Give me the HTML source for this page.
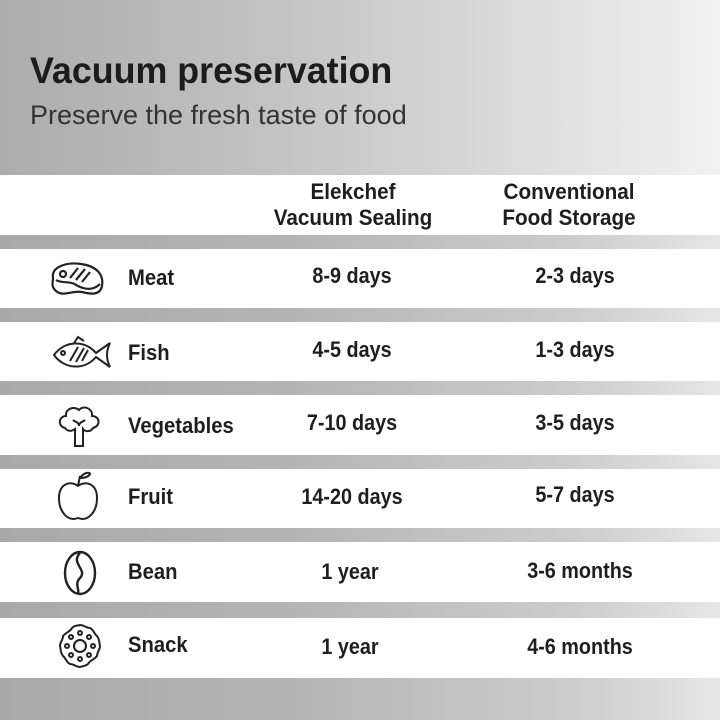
<!DOCTYPE html>
<html><head><meta charset="utf-8"><style>
html,body{margin:0;padding:0;}
body{width:720px;height:720px;position:relative;overflow:hidden;background:#fff;font-family:"Liberation Sans","Noto Sans CJK SC",sans-serif;color:#1e1e1e;}
.hdr{position:absolute;left:0;top:0;width:720px;height:175px;background:linear-gradient(90deg,#acacac 0%,#c4c4c4 40%,#e2e2e2 80%,#f2f2f2 100%);}
.bar{position:absolute;left:0;width:720px;height:14px;background:linear-gradient(90deg,#a9a9a9 0%,#b4b4b4 40%,#cdcdcd 80%,#e6e6e6 100%);}
.t{position:absolute;white-space:nowrap;font-weight:bold;}
.c{transform:translateX(-50%) scaleX(0.9);}
.l{transform-origin:left;transform:scaleX(0.92);}
svg{position:absolute;}
</style></head><body>
<div class="hdr"></div>
<div class="t l" style="left:30px;top:50px;font-size:37px;color:#1c1c1c;transform:scaleX(0.968);">Vacuum preservation</div>
<div class="t l" style="left:30px;top:100px;font-size:27px;font-weight:normal;color:#333;transform:scaleX(1.0);">Preserve the fresh taste of food</div>

<div class="t" style="left:353px;top:179px;font-size:22px;text-align:center;line-height:26px;transform:translateX(-50%) scaleX(0.94);">Elekchef<br>Vacuum Sealing</div>
<div class="t" style="left:569px;top:179px;font-size:22px;text-align:center;line-height:26px;transform:translateX(-50%) scaleX(0.94);">Conventional<br>Food Storage</div>

<div class="bar" style="top:235px"></div>
<div class="bar" style="top:308px"></div>
<div class="bar" style="top:381px"></div>
<div class="bar" style="top:455px"></div>
<div class="bar" style="top:528px"></div>
<div class="bar" style="top:602px;height:16px"></div>
<div class="bar" style="top:678px;height:42px"></div>

<div class="t l" style="left:128px;top:265px;font-size:22px;">Meat</div>
<div class="t c" style="left:352px;top:263px;font-size:22px;">8-9 days</div>
<div class="t c" style="left:575px;top:263px;font-size:22px;">2-3 days</div>

<div class="t l" style="left:128px;top:340px;font-size:22px;">Fish</div>
<div class="t c" style="left:352px;top:337px;font-size:22px;">4-5 days</div>
<div class="t c" style="left:575px;top:337px;font-size:22px;">1-3 days</div>

<div class="t l" style="left:128px;top:413px;font-size:22px;">Vegetables</div>
<div class="t c" style="left:352px;top:410px;font-size:22px;">7-10 days</div>
<div class="t c" style="left:575px;top:410px;font-size:22px;">3-5 days</div>

<div class="t l" style="left:128px;top:484px;font-size:22px;">Fruit</div>
<div class="t c" style="left:352px;top:484px;font-size:22px;">14-20 days</div>
<div class="t c" style="left:575px;top:482px;font-size:22px;">5-7 days</div>

<div class="t l" style="left:128px;top:559px;font-size:22px;">Bean</div>
<div class="t c" style="left:350px;top:559px;font-size:22px;">1 year</div>
<div class="t c" style="left:580px;top:558px;font-size:22px;">3-6 months</div>

<div class="t l" style="left:128px;top:632px;font-size:22px;">Snack</div>
<div class="t c" style="left:350px;top:634px;font-size:22px;">1 year</div>
<div class="t c" style="left:580px;top:634px;font-size:22px;">4-6 months</div>

<svg style="left:48px;top:260px" width="60" height="40" viewBox="0 0 60 40" fill="none" stroke="#222" stroke-width="2.2">
<path d="M5 18 C3 6 20 2 33 4 C48 6 56 14 54 26 C52 36 42 34 34 32 C24 30 14 38 7 30 C3 26 5 22 5 18Z"/>
<path d="M8 20 C14 24 22 20 30 26 C38 30 46 30 52 24"/>
<circle cx="15" cy="14" r="3"/><path d="M22 18 L30 8 M28 20 L37 9 M34 22 L42 12"/>
</svg>
<svg style="left:50px;top:335px" width="64" height="40" viewBox="0 0 64 40" fill="none" stroke="#222" stroke-width="2">
<path d="M4 20 C14 6 34 4 46 18 L60 8 C56 16 56 24 60 32 L46 22 C34 36 14 34 4 20Z"/>
<circle cx="13" cy="18" r="2"/><path d="M20 26 L28 12 M26 27 L34 13 M32 26 L38 15"/><path d="M24 8 L28 2 L34 6"/>
</svg>
<svg style="left:55px;top:402px" width="48" height="48" viewBox="0 0 48 48" fill="none" stroke="#222" stroke-width="2">
<path d="M10 26 C2 24 4 14 11 14 C10 6 20 4 24 8 C28 3 38 6 37 14 C45 14 46 24 38 26 C36 30 30 30 28 27 L28 44 L20 44 L20 27 C16 30 12 29 10 26Z"/>
<path d="M18 18 C20 20 24 20 24 24 M30 18 C28 20 24 20 24 24"/>
</svg>
<svg style="left:56px;top:470px" width="44" height="54" viewBox="0 0 44 54" fill="none" stroke="#222" stroke-width="2">
<path d="M22 16 C14 10 3 14 3 28 C3 42 12 52 22 48 C32 52 41 42 41 28 C41 14 30 10 22 16Z"/>
<path d="M22 16 L24 6 M24 8 C28 2 34 2 34 4 C32 8 26 8 24 8Z"/>
</svg>
<svg style="left:60px;top:548px" width="40" height="50" viewBox="0 0 40 50" fill="none" stroke="#222" stroke-width="2.4">
<ellipse cx="20" cy="25" rx="15" ry="21"/>
<path d="M20 5 C10 15 28 22 20 30 C14 36 20 42 18 46"/>
</svg>
<svg style="left:56px;top:622px" width="48" height="48" viewBox="0 0 48 48" fill="none" stroke="#222" stroke-width="2">
<path d="M24 3 C28 3 30 6 34 6 C38 8 38 12 41 14 C44 18 43 21 44 24 C44 28 41 30 41 34 C38 38 34 38 32 42 C28 45 26 44 24 45 C20 45 18 42 14 42 C10 40 10 36 7 34 C4 30 5 27 4 24 C4 20 7 18 7 14 C10 10 14 10 16 6 C19 3 21 4 24 3Z"/>
<circle cx="24" cy="24" r="6"/>
<circle cx="24" cy="11" r="2"/><circle cx="24" cy="37" r="2"/><circle cx="11" cy="24" r="2"/><circle cx="37" cy="24" r="2"/>
<circle cx="15" cy="15" r="2"/><circle cx="33" cy="15" r="2"/><circle cx="15" cy="33" r="2"/><circle cx="33" cy="33" r="2"/>
</svg>
</body></html>
